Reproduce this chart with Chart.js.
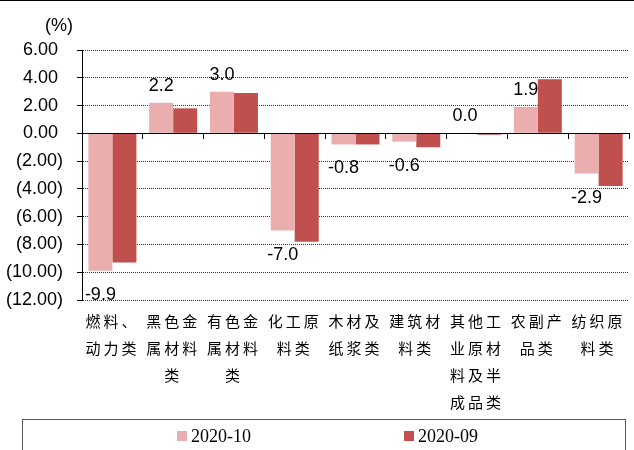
<!DOCTYPE html>
<html>
<head>
<meta charset="utf-8">
<script src="https://cdn.jsdelivr.net/npm/chart.js@4"></script>
<style>
  html, body { margin: 0; padding: 0; background: #fff; }
</style>
</head>
<body>
<canvas id="myChart" width="634" height="450"></canvas>
<script>
const categories = [
    ['燃料、', '动力类'],
    ['黑色金', '属材料', '类'],
    ['有色金', '属材料', '类'],
    ['化工原', '料类'],
    ['木材及', '纸浆类'],
    ['建筑材', '料类'],
    ['其他工', '业原材', '料及半', '成品类'],
    ['农副产', '品类'],
    ['纺织原', '料类']
];
const seriesNames = ['2020-10', '2020-09'];
const values202010 = [-9.9, 2.2, 3.0, -7.0, -0.8, -0.6, 0.0, 1.9, -2.9];
const values202009 = [-9.3, 1.8, 2.9, -7.8, -0.8, -1.0, -0.1, 3.9, -3.8];
const yTicks = { min: -12, max: 6, step: 2 };

const colors = ['#E9AEAD', '#C0504D'];

function fmtTick(v) {
    return v < 0 ? '(' + Math.abs(v).toFixed(2) + ')' : v.toFixed(2) + ' ';
}

// letter spacing only for the category labels (drawn before datasets)
const spacingPlugin = {
    id: 'spacing',
    beforeDraw(chart) { chart.ctx.letterSpacing = '3px'; },
    beforeDatasetsDraw(chart) { chart.ctx.letterSpacing = '0px'; }
};

// value labels on the 2020-10 bars
const valueLabels = {
    id: 'valueLabels',
    afterDatasetsDraw(chart) {
        const ctx = chart.ctx;
        const meta = chart.getDatasetMeta(0);
        ctx.save();
        ctx.letterSpacing = '0px';
        ctx.font = '18px "Liberation Sans", Arial, sans-serif';
        ctx.fillStyle = '#000';
        ctx.textAlign = 'center';
        ctx.textBaseline = 'alphabetic';
        meta.data.forEach((bar, i) => {
            const v = values202010[i];
            const y = v >= 0 ? bar.y - 12 : bar.y + 29;
            ctx.fillText(v.toFixed(1), bar.x, y);
        });
        ctx.restore();
    }
};

// frame, unit text and boxed legend
const decorations = {
    id: 'decorations',
    afterDraw(chart) {
        const ctx = chart.ctx;
        ctx.save();
        ctx.letterSpacing = '0px';
        ctx.strokeStyle = '#000';
        ctx.lineWidth = 1;
        ctx.beginPath();
        ctx.moveTo(0, 0.5);
        ctx.lineTo(634, 0.5);
        ctx.stroke();

        ctx.fillStyle = '#000';
        ctx.font = '18px "Liberation Sans", Arial, sans-serif';
        ctx.textAlign = 'left';
        ctx.textBaseline = 'alphabetic';
        ctx.fillText('(%)', 45, 31);

        ctx.strokeStyle = '#555';
        ctx.strokeRect(22.5, 419.5, 603, 40);

        const itemX = [177, 404];
        ctx.font = '18px "Liberation Serif", "Times New Roman", serif';
        chart.data.datasets.forEach((ds, i) => {
            ctx.fillStyle = ds.backgroundColor;
            ctx.fillRect(itemX[i], 431, 10, 10);
            ctx.fillStyle = '#000';
            ctx.fillText(ds.label, itemX[i] + 14, 442);
        });
        ctx.restore();
    }
};

const ctx = document.getElementById('myChart').getContext('2d');

new Chart(ctx, {
    type: 'bar',
    data: {
        labels: categories,
        datasets: [
            { label: seriesNames[0], data: values202010, backgroundColor: colors[0] },
            { label: seriesNames[1], data: values202009, backgroundColor: colors[1] }
        ]
    },
    options: {
        responsive: false,
        animation: false,
        devicePixelRatio: 1,
        categoryPercentage: 0.79,
        barPercentage: 1.0,
        layout: { padding: { top: 50, right: 5, left: 0, bottom: 0 } },
        plugins: {
            legend: { display: false },
            tooltip: { enabled: false }
        },
        scales: {
            x: {
                grid: { display: false },
                border: { display: false },
                ticks: {
                    autoSkip: false,
                    maxRotation: 0,
                    padding: 0,
                    color: '#000',
                    font: { family: '"Noto Sans CJK SC", sans-serif', size: 15, lineHeight: '27px' }
                },
                afterFit(scale) { scale.height = 150; }
            },
            x2: {
                axis: 'x',
                type: 'category',
                labels: categories,
                position: { y: 0 },
                offset: true,
                grid: { offset: true, drawOnChartArea: false, tickLength: 5, tickColor: '#000' },
                border: { color: '#000', width: 1, z: 1 },
                ticks: { display: false }
            },
            y: {
                min: yTicks.min,
                max: yTicks.max,
                ticks: {
                    stepSize: yTicks.step,
                    callback: v => fmtTick(v),
                    color: '#000',
                    padding: 14,
                    z: 1,
                    font: { family: '"Liberation Sans", Arial, sans-serif', size: 18 }
                },
                grid: { color: '#333', lineWidth: 1, tickLength: 5, tickColor: '#000' },
                border: { color: '#000', width: 1, dash: [1, 1] },
                afterFit(scale) { scale.width = 82; }
            }
        }
    },
    plugins: [spacingPlugin, valueLabels, decorations]
});
</script>
</body>
</html>
